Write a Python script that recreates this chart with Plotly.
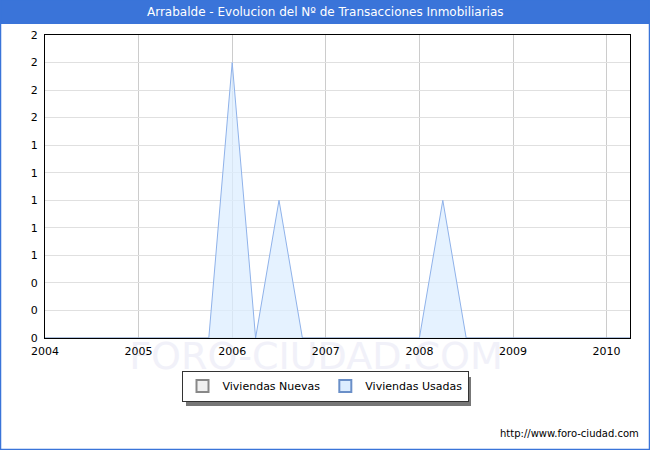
import plotly.graph_objects as go

# quarterly periods (year + quarter offset)
periodos = [2004.0, 2004.25, 2004.5, 2004.75,
            2005.0, 2005.25, 2005.5, 2005.75,
            2006.0, 2006.25, 2006.5, 2006.75,
            2007.0, 2007.25, 2007.5, 2007.75,
            2008.0, 2008.25, 2008.5, 2008.75,
            2009.0, 2009.25, 2009.5, 2009.75,
            2010.0, 2010.25]
viviendas_nuevas = [0, 0, 0, 0,
                    0, 0, 0, 0,
                    0, 0, 0, 0,
                    0, 0, 0, 0,
                    0, 0, 0, 0,
                    0, 0, 0, 0,
                    0, 0]
viviendas_usadas = [0, 0, 0, 0,
                    0, 0, 0, 0,
                    2, 0, 1, 0,
                    0, 0, 0, 0,
                    0, 1, 0, 0,
                    0, 0, 0, 0,
                    0, 0]
anios = [2004, 2005, 2006, 2007, 2008, 2009, 2010]

W, H = 650, 450
L, R, T, B = 45, 20, 35, 112
PW, PH = W - L - R, H - T - B


def px(x):
    return (x - L) / PW


def py(y):
    return (H - B - y) / PH


FONT = "DejaVu Sans"
AZUL = '#3a74d9'

fig = go.Figure()
fig.add_trace(go.Scatter(x=periodos, y=viviendas_nuevas, mode='lines', showlegend=False,
                         line=dict(color='#a0a0a0', width=1), fill='tozeroy',
                         fillcolor='rgba(235,235,235,0.6)'))
fig.add_trace(go.Scatter(x=periodos, y=viviendas_usadas, mode='lines', showlegend=False,
                         line=dict(color='#8fb2ea', width=1), fill='tozeroy',
                         fillcolor='rgba(220,237,255,0.75)'))
# legend entries (small squares like the original)
fig.add_trace(go.Scatter(x=[None], y=[None], mode='markers', name='Viviendas Nuevas',
                         marker=dict(symbol='square', size=8, color='#f0f0f0',
                                     line=dict(color='#888888', width=1))))
fig.add_trace(go.Scatter(x=[None], y=[None], mode='markers', name='Viviendas Usadas',
                         marker=dict(symbol='square', size=8, color='#dcedff',
                                     line=dict(color='#6a8fc8', width=1))))

shapes = [
    # title bar
    dict(type='rect', xref='paper', yref='paper', x0=px(0), x1=px(W), y0=py(24), y1=py(0),
         fillcolor=AZUL, line=dict(width=0), layer='below'),
    # outer border
    dict(type='rect', xref='paper', yref='paper', x0=px(0.5), x1=px(W - 0.5), y0=py(H - 0.5), y1=py(0),
         fillcolor='rgba(0,0,0,0)', line=dict(color=AZUL, width=1.5), layer='below'),
    # watermark, kept under the tick labels
    dict(type='rect', xref='paper', yref='paper', x0=px(116), x1=px(516), y0=py(375), y1=py(331),
         fillcolor='rgba(0,0,0,0)', line=dict(width=0), layer='below',
         label=dict(text='FORO-CIUDAD.COM', textposition='middle center',
                    font=dict(family=FONT, size=38, color='#f1f1f9'))),
    # legend shadow
    dict(type='rect', xref='paper', yref='paper', x0=px(186), x1=px(471), y0=py(406), y1=py(377),
         fillcolor='#777777', line=dict(width=0), layer='above'),
]

annotations = [
    dict(text='Arrabalde - Evolucion del Nº de Transacciones Inmobiliarias', xref='paper', yref='paper',
         x=px(W / 2), y=py(12), showarrow=False, xanchor='center', yanchor='middle',
         font=dict(family=FONT, size=12, color='white')),
    dict(text='http://www.foro-ciudad.com', xref='paper', yref='paper', x=px(641), y=py(433),
         showarrow=False, xanchor='right', yanchor='middle',
         font=dict(family=FONT, size=10, color='black')),
]

fig.update_layout(
    width=W, height=H,
    margin=dict(l=L, r=R, t=T, b=B),
    paper_bgcolor='white', plot_bgcolor='white',
    font=dict(family=FONT, size=11, color='black'),
    showlegend=True,
    legend=dict(orientation='h', x=px(325), y=py(386), xanchor='center', yanchor='middle',
                bgcolor='white', bordercolor='#333333', borderwidth=1,
                itemsizing='constant', tracegroupgap=0,
                font=dict(family=FONT, size=11, color='black')),
    shapes=shapes,
    annotations=annotations,
)
fig.update_xaxes(range=[2004, 2010.25], tickvals=anios, ticktext=[str(a) for a in anios],
                 showgrid=True, gridcolor='#cccccc', gridwidth=1,
                 showline=True, linecolor='black', linewidth=1, mirror=True,
                 ticks='', zeroline=False, tickfont=dict(size=11), ticklabelstandoff=3)
fig.update_yaxes(range=[0, 2.2], dtick=0.2, tick0=0, tickformat='.0f',
                 showgrid=True, gridcolor='#e0e0e0', gridwidth=1,
                 showline=True, linecolor='black', linewidth=1, mirror=True,
                 ticks='', zeroline=False, tickfont=dict(size=11), ticklabelstandoff=4)

fig.write_html("out.html", config={'displayModeBar': False},
               post_script="document.body.style.margin='0';")
